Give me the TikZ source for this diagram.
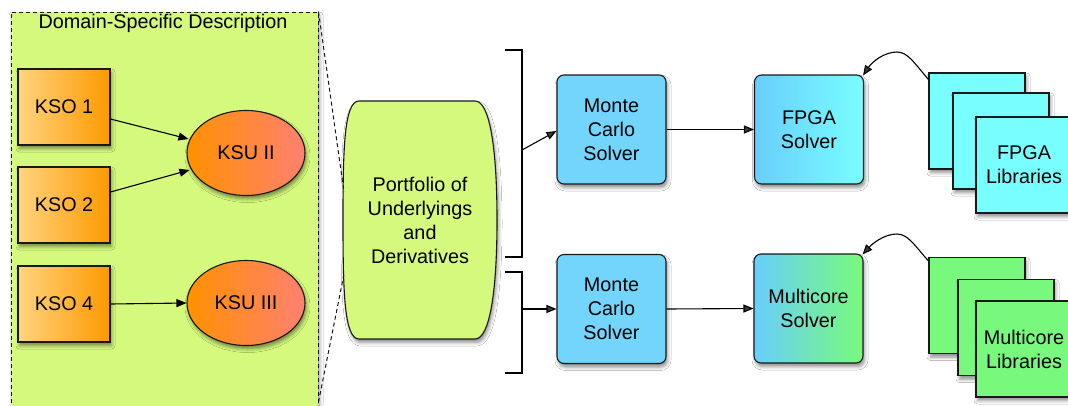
\documentclass[tikz,border=0pt]{standalone}
\usepackage{fontspec}
\setmainfont{Liberation Sans}
\usetikzlibrary{arrows.meta,shapes.geometric,shadows.blur,calc}

\definecolor{domfill}{RGB}{213,249,124}
\definecolor{ksoL}{RGB}{255,212,125}
\definecolor{ksoR}{RGB}{255,153,0}
\definecolor{ksuL}{RGB}{255,145,0}
\definecolor{ksuR}{RGB}{255,128,112}
\definecolor{mcblue}{RGB}{115,213,252}
\definecolor{solvL}{RGB}{104,206,252}
\definecolor{fpgaR}{RGB}{120,254,255}
\definecolor{mcoreR}{RGB}{120,250,122}
\definecolor{libcyan}{RGB}{120,254,255}
\definecolor{libgreen}{RGB}{120,248,124}

\begin{document}
\begin{tikzpicture}[x=1pt,y=-1pt,
  lbl/.style={font=\fontsize{19.8}{24}\selectfont, align=center, inner sep=0pt},
  shd/.style={blur shadow={shadow xshift=1.5pt, shadow yshift=-3.5pt, shadow blur radius=3.5pt, shadow opacity=45}},
  bord/.style={draw=black!90, line width=1.1pt},
  kso/.style={lbl, bord, shd, rectangle, minimum width=92pt, minimum height=76pt, left color=ksoL, right color=ksoR},
  ksu/.style={lbl, bord, shd, ellipse, minimum width=118pt, minimum height=85pt, left color=ksuL, right color=ksuR},
  solver/.style={lbl, bord, shd, rectangle, rounded corners=7pt, minimum width=109pt, minimum height=109pt},
  lib/.style={lbl, bord, shd, rectangle, minimum width=96pt, minimum height=96pt},
  arr/.style={-{Triangle[length=10pt,width=8pt]}, line width=1.1pt},
  brk/.style={line width=1.1pt},
  zoomline/.style={draw=black!90, line width=1pt, dash pattern=on 4pt off 3pt}
]
\useasboundingbox (0,0) rectangle (1068,405);
\fill[white] (0,0) rectangle (1068,405);

% domain-specific container (runs off the lower edge)
\node[bord, line width=1pt, dash pattern=on 4pt off 3pt, fill=domfill, shd, minimum width=307pt, minimum height=420pt, inner sep=0pt]
  (dom) at (164.5,222) {};
\node[lbl] (domtitle) at (163,23) {Domain-Specific Description};

% KSO boxes and KSU ellipses
\node[kso] (kso1) at (64,107) {KSO 1};
\node[kso] (kso2) at (64,205) {KSO 2};
\node[kso] (kso4) at (64,304) {KSO 4};
\node[ksu] (ksu2) at (246,153) {KSU II};
\node[ksu] (ksu3) at (246,303) {KSU III};

\draw[arr] ($(kso1.east)+(0,12)$) -- ($(ksu2.west)+(2,-14)$);
\draw[arr] ($(kso2.east)+(0,-13)$) -- ($(ksu2.west)+(3,17)$);
\draw[arr] (kso4.east) -- (ksu3.west);

% portfolio barrel
\coordinate (pfL) at (343,220);
\coordinate (pfR) at (497,220);
\path[bord, fill=domfill, shd]
  (359,101) -- (475,101)
  .. controls (490,101) and (497,150) .. (pfR)
  .. controls (497,290) and (490,339) .. (475,339)
  -- (359,339)
  .. controls (344,339) and (343,290) .. (pfL)
  .. controls (343,150) and (344,101) .. (359,101) -- cycle;
\node[lbl] (pf) at (420,220) {Portfolio of\\Underlyings\\and\\Derivatives};

% zoom lines from the container to the portfolio
\coordinate (zA) at (344,192);
\coordinate (zB) at (344,274);
\draw[zoomline] (dom.north east) -- (zA);
\draw[zoomline] ($(dom.east)+(0,180)$) -- (zB);

% brackets
\coordinate (b1top) at (522,50);
\coordinate (b1bot) at (522,257);
\coordinate (b1mid) at (522,150);
\coordinate (b2top) at (522,272);
\coordinate (b2bot) at (522,373);
\coordinate (b2mid) at (522,309);
\draw[brk] (505,50) -- (b1top) -- (b1bot) -- (505,257);
\draw[brk] (505,272) -- (b2top) -- (b2bot) -- (505,373);

% solvers
\node[solver, fill=mcblue] (mc1) at (611.5,129.5) {Monte\\Carlo\\Solver};
\node[solver, fill=mcblue] (mc2) at (611.5,309) {Monte\\Carlo\\Solver};
\node[solver, left color=solvL, right color=fpgaR] (fpga) at (809,129.5) {FPGA\\Solver};
\node[solver, left color=solvL, right color=mcoreR] (mcore) at (808.5,308.5) {Multicore\\Solver};

\draw[arr] (b1mid) -- ($(mc1.west)+(0,1.5)$);
\draw[arr] (b2mid) -- (mc2.west);
\draw[arr] (mc1.east) -- (fpga.west);
\draw[arr] (mc2.east) -- (mcore.west);

% library stacks
\node[lib, fill=libcyan] (fl1) at (977,121) {};
\node[lib, fill=libcyan] (fl2) at (1001,141) {};
\node[lib, fill=libcyan] (fl3) at (1024,165) {FPGA\\Libraries};
\node[lib, fill=libgreen] (ml1) at (977,305.5) {};
\node[lib, fill=libgreen] (ml2) at (1006,327.5) {};
\node[lib, fill=libgreen] (ml3) at (1024,349) {Multicore\\Libraries};

% library links
\coordinate (fs) at ($(fl1.north west)+(0,7)$);
\coordinate (fp) at (897,52);
\coordinate (ms) at ($(ml1.north west)+(0,4)$);
\coordinate (mp) at (897,234);
\draw[arr] (fs) .. controls (915,64) and (908,52) .. (fp)
  .. controls (884,52) and (872,62) .. ($(fpga.north east)+(-1,1)$);
\draw[arr] (ms) .. controls (915,246) and (908,234) .. (mp)
  .. controls (884,234) and (872,244) .. ($(mcore.north east)+(-1,1)$);
\end{tikzpicture}
\end{document}
